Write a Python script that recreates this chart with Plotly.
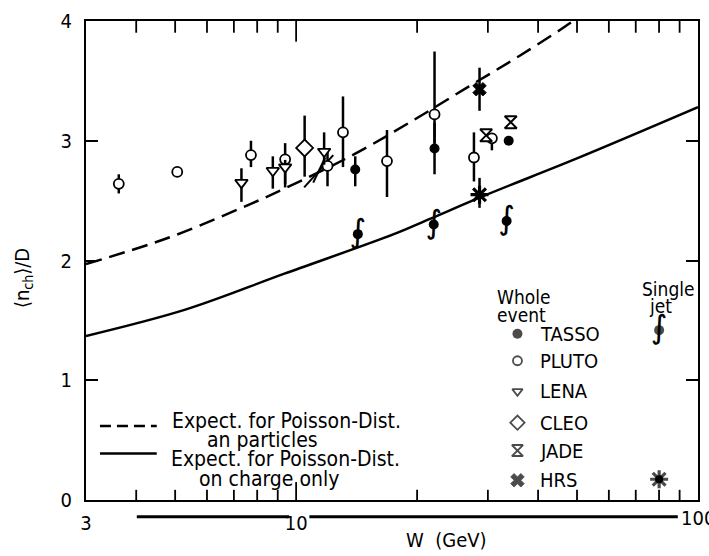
import math
import plotly.graph_objects as go

FONT = "DejaVu Sans Condensed, Liberation Sans Narrow, DejaVu Sans, sans-serif"
INK = "black"

# Expectation curves (W in GeV, <n_ch>/D)
poisson_all_w = [3.0, 4.81, 7.32, 9.35, 14.0, 20.0, 27.1, 36.0, 48.4, 52.0]
poisson_all_v = [1.97, 2.19, 2.44, 2.60, 2.89, 3.19, 3.46, 3.71, 3.99, 4.07]
poisson_charge_w = [3.0, 5.30, 9.35, 17.5, 21.6, 29.8, 49.8, 100.0]
poisson_charge_v = [1.37, 1.59, 1.89, 2.22, 2.35, 2.55, 2.85, 3.28]

# Whole event measurements: value, upper and lower end of the error bar
tasso_w = [14.03, 22.1, 33.8]
tasso_v = [2.76, 2.935, 3.00]
tasso_hi = [2.87, 3.15, 3.00]
tasso_lo = [2.62, 2.72, 3.00]

pluto_w = [3.62, 5.06, 7.72, 9.39, 11.97, 13.08, 16.83, 22.1, 27.7, 30.7]
pluto_v = [2.64, 2.74, 2.88, 2.845, 2.79, 3.07, 2.83, 3.22, 2.86, 3.02]
pluto_hi = [2.72, 2.74, 3.00, 2.98, 2.93, 3.37, 3.09, 3.745, 3.07, 3.06]
pluto_lo = [2.56, 2.74, 2.78, 2.64, 2.62, 2.78, 2.53, 2.98, 2.66, 2.92]

lena_w = [7.31, 8.75, 9.39, 11.74]
lena_v = [2.65, 2.75, 2.78, 2.91]
lena_hi = [2.77, 2.87, 2.84, 3.07]
lena_lo = [2.49, 2.60, 2.61, 2.80]

cleo_w = [10.5]
cleo_v = [2.94]
cleo_hi = [3.21]
cleo_lo = [2.70]

jade_w = [29.7, 34.2]
jade_v = [3.045, 3.155]

hrs_w = [28.6]
hrs_v = [3.43]
hrs_hi = [3.61]
hrs_lo = [3.25]

# Single jet measurements
tasso_jet_w = [14.24, 22.0, 33.4]
tasso_jet_v = [2.22, 2.30, 2.33]
hrs_jet_w = [28.6]
hrs_jet_v = [2.55]
hrs_jet_hi = [2.69]
hrs_jet_lo = [2.44]

# Slanted strokes drawn through the LENA point near 11 GeV
lena_stroke_w = [11.03, 11.81, None, 10.47, 12.37]
lena_stroke_v = [2.65, 2.86, None, 2.61, 2.88]

W_MIN, W_MAX = 3.0, 100.0
V_MIN, V_MAX = 0.0, 4.0
x_labels = [3, 10]
x_minor = [4, 5, 6, 7, 8, 9, 20, 30, 40, 50, 60, 70, 80, 90]
x_long_ticks = [10]
y_ticks = [0, 1, 2, 3, 4]


def err(v, hi, lo):
    return dict(type="data", symmetric=False,
                array=[h - x for h, x in zip(hi, v)],
                arrayminus=[x - l for l, x in zip(lo, v)],
                width=0, thickness=2.5, color=INK)


fig = go.Figure()

# Inward ticks of the energy axis, drawn as one-sided bars from both edges
tick_w = x_minor + x_long_ticks
tick_len = [0.15 if w in x_long_ticks else 0.085 for w in tick_w]
fig.add_trace(go.Scatter(x=tick_w, y=[V_MIN] * len(tick_w), mode="markers",
                         marker=dict(size=1, color="rgba(0,0,0,0)"),
                         error_y=dict(type="data", symmetric=False, array=tick_len,
                                      arrayminus=[0] * len(tick_w), width=0,
                                      thickness=1.8, color=INK),
                         cliponaxis=False, hoverinfo="skip"))
fig.add_trace(go.Scatter(x=tick_w, y=[V_MAX] * len(tick_w), mode="markers",
                         marker=dict(size=1, color="rgba(0,0,0,0)"),
                         error_y=dict(type="data", symmetric=False,
                                      array=[0] * len(tick_w),
                                      arrayminus=[t * 1.15 for t in tick_len], width=0,
                                      thickness=1.8, color=INK),
                         cliponaxis=False, hoverinfo="skip"))

fig.add_trace(go.Scatter(x=poisson_all_w, y=poisson_all_v, mode="lines",
                         line=dict(color=INK, width=2.5, dash="16px,8px",
                                   shape="spline", smoothing=1.0)))
fig.add_trace(go.Scatter(x=poisson_charge_w, y=poisson_charge_v, mode="lines",
                         line=dict(color=INK, width=2.5, shape="spline", smoothing=1.0)))
fig.add_trace(go.Scatter(x=lena_stroke_w, y=lena_stroke_v, mode="lines",
                         line=dict(color=INK, width=2), connectgaps=False))

fig.add_trace(go.Scatter(x=pluto_w, y=pluto_v, mode="markers",
                         error_y=err(pluto_v, pluto_hi, pluto_lo),
                         marker=dict(symbol="circle", size=10, color="white",
                                     line=dict(color=INK, width=1.8))))
fig.add_trace(go.Scatter(x=lena_w, y=lena_v, mode="markers",
                         error_y=err(lena_v, lena_hi, lena_lo),
                         marker=dict(symbol="triangle-down", size=11, color="white",
                                     line=dict(color=INK, width=1.8))))
fig.add_trace(go.Scatter(x=cleo_w, y=cleo_v, mode="markers",
                         error_y=err(cleo_v, cleo_hi, cleo_lo),
                         marker=dict(symbol="diamond", size=13, color="white",
                                     line=dict(color=INK, width=1.8))))
fig.add_trace(go.Scatter(x=tasso_w, y=tasso_v, mode="markers",
                         error_y=err(tasso_v, tasso_hi, tasso_lo),
                         marker=dict(symbol="circle", size=10, color=INK)))
fig.add_trace(go.Scatter(x=jade_w, y=jade_v, mode="markers",
                         marker=dict(symbol="hourglass", size=12, color="white",
                                     line=dict(color=INK, width=2))))
fig.add_trace(go.Scatter(x=hrs_w, y=hrs_v, mode="markers",
                         error_y=err(hrs_v, hrs_hi, hrs_lo),
                         marker=dict(symbol="x", size=12, color=INK,
                                     line=dict(color=INK, width=0.8))))
fig.add_trace(go.Scatter(x=hrs_jet_w, y=hrs_jet_v, mode="markers",
                         error_y=err(hrs_jet_v, hrs_jet_hi, hrs_jet_lo),
                         marker=dict(symbol="asterisk", size=15,
                                     line=dict(color=INK, width=3.2))))
fig.add_trace(go.Scatter(x=hrs_jet_w, y=hrs_jet_v, mode="markers",
                         marker=dict(symbol="circle", size=8, color=INK)))
fig.add_trace(go.Scatter(x=tasso_jet_w, y=tasso_jet_v, mode="markers+text",
                         text=["∫"] * len(tasso_jet_w), textposition="middle center",
                         textfont=dict(family="DejaVu Sans", size=32, color=INK),
                         marker=dict(symbol="circle", size=10, color=INK)))

# Legend symbols on an overlay in plot-fraction coordinates
leg_x = [0.705] * 6 + [0.9365, 0.9365]
leg_y = [0.347, 0.2907, 0.2268, 0.1614, 0.1031, 0.0412, 0.3546, 0.0433]
leg_sym = ["circle", "circle", "triangle-down", "diamond", "hourglass", "x",
           "circle", "asterisk"]
leg_fill = [INK, "white", "white", "white", "white", INK, INK, INK]
leg_size = [10, 9, 9, 11, 11, 12, 10, 15]
leg_lw = [0, 1.8, 1.8, 1.8, 2, 0.8, 0, 3.2]
fig.add_trace(go.Scatter(x=leg_x, y=leg_y, xaxis="x2", yaxis="y2", mode="markers",
                         marker=dict(symbol=leg_sym, size=leg_size, color=leg_fill,
                                     line=dict(color=INK, width=leg_lw)),
                         cliponaxis=False))
fig.add_trace(go.Scatter(x=[0.9365], y=[0.0433], xaxis="x2", yaxis="y2", mode="markers",
                         marker=dict(symbol="circle", size=8, color=INK),
                         cliponaxis=False))
fig.add_trace(go.Scatter(x=[0.9365], y=[0.3546], xaxis="x2", yaxis="y2", mode="text",
                         text=["∫"], textposition="middle center",
                         textfont=dict(family="DejaVu Sans", size=32, color=INK),
                         cliponaxis=False))
fig.add_trace(go.Scatter(x=[0.0228, 0.1156], y=[0.1546, 0.1546], xaxis="x2", yaxis="y2",
                         mode="lines", line=dict(color=INK, width=2.5, dash="11px,6px"),
                         cliponaxis=False))
fig.add_trace(go.Scatter(x=[0.0228, 0.1156], y=[0.0969, 0.0969], xaxis="x2", yaxis="y2",
                         mode="lines", line=dict(color=INK, width=2.5),
                         cliponaxis=False))

annotations = []


def note(text, x, y, xanchor="left", angle=0, size=20):
    annotations.append(dict(text=text, x=x, y=y, xref="paper", yref="paper",
                            xanchor=xanchor, yanchor="middle", showarrow=False,
                            font=dict(family=FONT, size=size, color=INK),
                            textangle=angle))


note("Whole", 0.669, 0.4247, size=19)
note("event", 0.669, 0.3856, size=19)
for label, yy in zip(["TASSO", "PLUTO", "LENA", "CLEO", "JADE", "HRS"],
                     [0.347, 0.2907, 0.2268, 0.1614, 0.1031, 0.0412]):
    note(label, 0.7378, yy)
note("Single", 0.951, 0.441, "center", size=19)
note("jet", 0.938, 0.404, "center", size=19)
note("Expect. for Poisson-Dist.", 0.1368, 0.1639, size=21)
note("an particles", 0.288, 0.1258, "center", size=21)
note("Expect. for Poisson-Dist.", 0.135, 0.0865, size=21)
note("on charge only", 0.2997, 0.0434, "center", size=21)
note("W  (GeV)", 0.5896, -0.0825, "center")
note("100", 1.0, -0.0375, "center")
note("⟨n<sub>ch</sub>⟩/D", -0.104, 0.464, "center", -90)

# Ruler under the energy axis
shapes = [
    dict(type="line", xref="paper", yref="paper", x0=0.083, x1=0.332, y0=-0.035, y1=-0.035,
         line=dict(color=INK, width=3)),
    dict(type="line", xref="paper", yref="paper", x0=0.365, x1=0.967, y0=-0.035, y1=-0.035,
         line=dict(color=INK, width=3)),
]

fig.update_layout(
    width=709, height=556,
    margin=dict(l=86, r=9, t=15, b=56),
    paper_bgcolor="white", plot_bgcolor="white",
    showlegend=False,
    font=dict(family=FONT, size=20, color=INK),
    annotations=annotations,
    shapes=shapes,
    xaxis=dict(type="log", range=[math.log10(W_MIN), math.log10(W_MAX)],
               tickvals=x_labels, ticktext=[str(v) for v in x_labels], ticks="",
               showline=True, linecolor=INK, linewidth=2, mirror=True,
               showgrid=False, zeroline=False, ticklabelstandoff=4,
               tickfont=dict(family=FONT, size=20, color=INK)),
    yaxis=dict(range=[V_MIN, V_MAX], tickvals=y_ticks, ticks="inside", ticklen=12,
               tickwidth=1.5, tickcolor=INK,
               showline=True, linecolor=INK, linewidth=2, mirror="ticks",
               showgrid=False, zeroline=False, ticklabelstandoff=8,
               tickfont=dict(family=FONT, size=20, color=INK)),
    xaxis2=dict(overlaying="x", range=[0, 1], visible=False, domain=[0, 1]),
    yaxis2=dict(overlaying="y", range=[0, 1], visible=False, domain=[0, 1]),
)

fig.write_html("out.html")
